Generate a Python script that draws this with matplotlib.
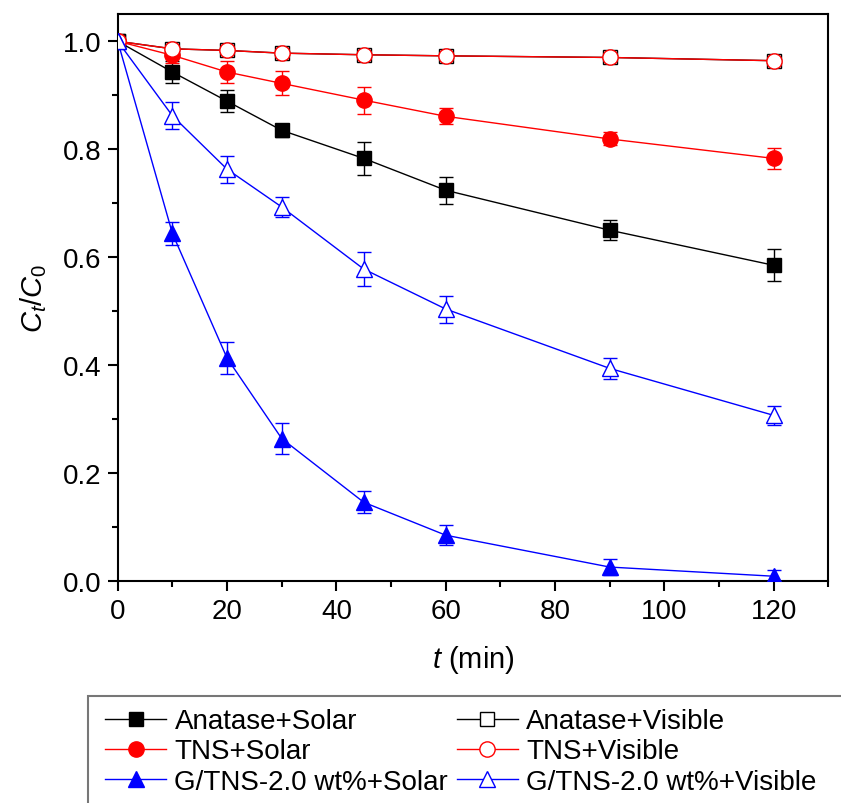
import matplotlib
matplotlib.use("Agg")
import matplotlib.pyplot as plt
from matplotlib.ticker import MultipleLocator
from matplotlib.patches import Rectangle

plt.rcParams['font.family'] = ['Liberation Sans', 'DejaVu Sans']
plt.rcParams['mathtext.fontset'] = 'custom'
plt.rcParams['mathtext.rm'] = 'Liberation Sans'
plt.rcParams['mathtext.it'] = 'Liberation Sans:italic'

t = [0, 10, 20, 30, 45, 60, 90, 120]

labels = ['Anatase+Solar', 'Anatase+Visible', 'TNS+Solar', 'TNS+Visible',
          'G/TNS-2.0 wt%+Solar', 'G/TNS-2.0 wt%+Visible']

anatase_solar = [1.0, 0.943, 0.889, 0.835, 0.783, 0.724, 0.650, 0.585]
anatase_solar_err = [0, 0.020, 0.020, 0.012, 0.030, 0.025, 0.018, 0.030]
anatase_vis = [1.0, 0.986, 0.983, 0.978, 0.975, 0.973, 0.970, 0.964]
anatase_vis_err = [0, 0.004, 0.004, 0.004, 0.004, 0.004, 0.004, 0.004]

tns_solar = [1.0, 0.974, 0.943, 0.922, 0.891, 0.861, 0.819, 0.783]
tns_solar_err = [0, 0.015, 0.020, 0.022, 0.025, 0.015, 0.012, 0.020]
tns_vis = [1.0, 0.986, 0.983, 0.978, 0.975, 0.973, 0.970, 0.964]
tns_vis_err = [0, 0.005, 0.005, 0.005, 0.005, 0.004, 0.004, 0.005]

g_solar = [1.0, 0.644, 0.413, 0.264, 0.146, 0.085, 0.026, 0.009]
g_solar_err = [0, 0.022, 0.030, 0.028, 0.020, 0.018, 0.015, 0.012]
g_vis = [1.0, 0.862, 0.763, 0.693, 0.578, 0.504, 0.394, 0.307]
g_vis_err = [0, 0.025, 0.025, 0.018, 0.032, 0.025, 0.020, 0.018]

fig = plt.figure(figsize=(8.41, 8.04), dpi=100)
ax = fig.add_axes([0.140, 0.276, 0.845, 0.705])

def series(y, err, color, marker, filled, z):
    cont = ax.errorbar(t, y, yerr=err, color=color, lw=1.0, marker=marker,
                       ms=10 if marker == 's' else 11,
                       mfc=color if filled else 'white', mec=color, mew=1.0,
                       capsize=5, elinewidth=1.0, capthick=1.0, zorder=z)
    return cont[0]

h1 = series(anatase_solar, anatase_solar_err, 'black', 's', True, 3)
h2 = series(anatase_vis, anatase_vis_err, 'black', 's', False, 2)
h3 = series(tns_solar, tns_solar_err, 'red', 'o', True, 3)
h4 = series(tns_vis, tns_vis_err, 'red', 'o', False, 3)
h5 = series(g_solar, g_solar_err, 'blue', '^', True, 3)
h6 = series(g_vis, g_vis_err, 'blue', '^', False, 3)

ax.set_xlim(0, 130)
ax.set_ylim(0, 1.05)
ax.xaxis.set_major_locator(MultipleLocator(20))
ax.xaxis.set_minor_locator(MultipleLocator(10))
ax.yaxis.set_major_locator(MultipleLocator(0.2))
ax.yaxis.set_minor_locator(MultipleLocator(0.1))
ax.yaxis.set_major_formatter(plt.FormatStrFormatter('%.1f'))
ax.tick_params(which='major', direction='out', length=7, width=1.5, labelsize=20, pad=5)
ax.tick_params(which='minor', direction='out', length=4, width=1.5)
for s in ax.spines.values():
    s.set_linewidth(1.5)

ax.set_xlabel(r'$\mathit{t}$ (min)', fontsize=21, labelpad=14)
ax.set_ylabel(r'$\mathit{C_t}/\mathit{C}_0$', fontsize=21, labelpad=10)

# legend frame runs off the right edge of the figure
fig.patches.append(Rectangle((0.105, -0.01), 0.92, 0.143, transform=fig.transFigure,
                             fill=False, edgecolor='#777777', linewidth=1.5))

handles = [h1, h3, h5, h2, h4, h6]
leg_labels = [labels[0], labels[2], labels[4], labels[1], labels[3], labels[5]]
leg = fig.legend(handles, leg_labels, loc='lower left', bbox_to_anchor=(0.115, 0.0),
                 ncol=2, fontsize=20, frameon=False, borderaxespad=0.1,
                 handlelength=2.2, columnspacing=0.3, handletextpad=0.3,
                 labelspacing=0.15, borderpad=0.2)

fig.savefig('out.png', dpi=100)
